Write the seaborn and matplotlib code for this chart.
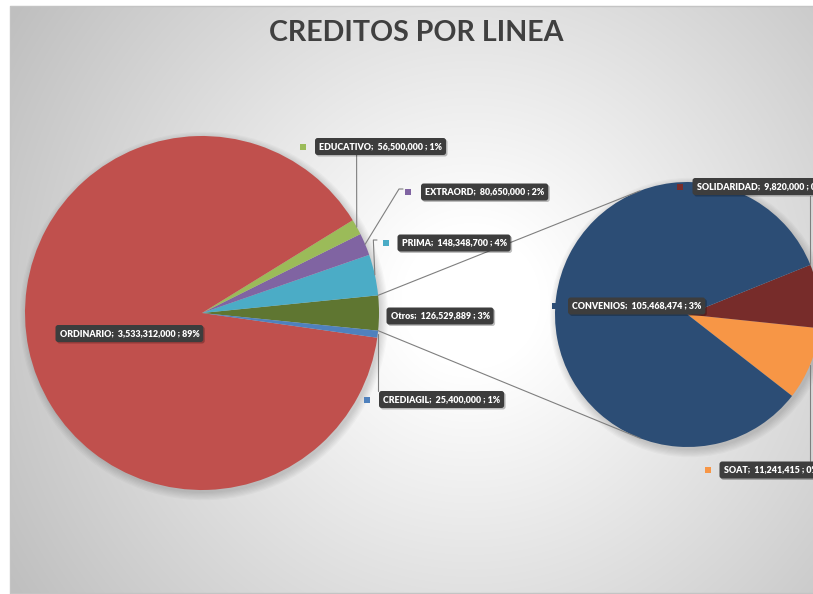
import numpy as np
import seaborn as sns
import matplotlib.pyplot as plt

# Main pie (counter-clockwise from the "Otros" slice, which faces the second pie)
other_lines = ["SOAT", "SOLIDARIDAD", "CONVENIOS"]
other_values = [11241415, 9820000, 105468474]

main_lines = ["Otros", "PRIMA", "EXTRAORD", "EDUCATIVO", "ORDINARIO", "CREDIAGIL"]
main_values = [sum(other_values), 148348700, 80650000, 56500000, 3533312000, 25400000]

main_colors = ["#5f7631", "#4bacc6", "#8064a2", "#9bbb59", "#c0504d", "#4f81bd"]
other_colors = ["#f79646", "#772c2a", "#2c4d75"]

total = sum(main_values)

sns.set_style("white")
plt.rcParams["font.family"] = ["Lato", "DejaVu Sans"]

W, H = 813, 594
fig = plt.figure(figsize=(8.13, 5.94), dpi=100)
ax = fig.add_axes([0, 0, 1, 1])

# radial gradient background of the chart area
yy, xx = np.mgrid[0:H, 0:W]
d = np.hypot(xx - 470, yy - 300)
g = 1 - 0.25 * np.clip((d - 70) / 470, 0, 1)
img = np.dstack([g, g, g])
img[:6, :] = 1
img[:, :10] = 1
img[593:, :] = 1
ax.imshow(img, extent=(0, W, 0, H), origin="upper", zorder=0)
ax.plot([10, 10, W], [H - 593, H - 6, H - 6], color="#c4c4c4", lw=1, zorder=1)
ax.plot([10, W], [H - 593, H - 593], color="#c4c4c4", lw=1, zorder=1)

# geometry
c1, r1 = (202, H - 313), 177
c2, r2 = (687.5, H - 314.5), 132.5

fr_main = np.array(main_values) / total
start1 = -360 * fr_main[0] / 2
fr_other = np.array(other_values) / sum(other_values)
start2 = 22 - 360 * (fr_other[0] + fr_other[1])

# soft shadows
for c, r in [(c1, r1), (c2, r2)]:
    for k in range(7):
        ax.add_patch(plt.Circle((c[0] + 2, c[1] - 3), r + k * 1.2, color="k",
                                alpha=0.025, lw=0, zorder=1))

ax.pie(main_values, colors=main_colors, startangle=start1, center=c1, radius=r1,
       counterclock=True, wedgeprops=dict(linewidth=0), frame=True)
ax.pie(other_values, colors=other_colors, startangle=start2, center=c2, radius=r2,
       counterclock=True, wedgeprops=dict(linewidth=0), frame=True)
for w in ax.patches:
    w.set_zorder(2)

line_kw = dict(color="#7f7f7f", lw=0.8, zorder=3)

# connector lines between the pies
a = np.radians(-start1)
for s in (1, -1):
    p0 = (c1[0] + r1 * np.cos(a), c1[1] + s * r1 * np.sin(a))
    b = np.radians(s * 111)
    p1 = (c2[0] + r2 * np.cos(b), c2[1] + r2 * np.sin(b))
    ax.plot([p0[0], p1[0]], [p0[1], p1[1]], **line_kw)


def mid_point(c, r, start, fr, i):
    ang = np.radians(start + 360 * (fr[:i].sum() + fr[i] / 2))
    return c[0] + r * np.cos(ang), c[1] + r * np.sin(ang)


def label(x, y, name, value, color=None, mx=None):
    txt = f"{name};  {value:,} ; {round(100 * value / total):.0f}%"
    y = H - y
    kw = dict(ha="left", va="center", fontsize=6.4, fontweight="heavy", zorder=6)
    box = "round,pad=0.45,rounding_size=0.3"
    ax.text(x + 1.5, y - 1.5, txt, color=(0, 0, 0, 0),
            bbox=dict(boxstyle=box, fc="k", ec="none", alpha=0.25), **kw)
    ax.text(x, y, txt, color="white",
            bbox=dict(boxstyle=box, fc="#3d3d3d", ec="none"), **kw)
    if color is not None:
        ax.scatter([mx], [y], marker="s", s=18, color=color, lw=0, zorder=6)


def leader(pts):
    xs = [p[0] for p in pts]
    ys = [p[1] if i == 0 else H - p[1] for i, p in enumerate(pts)]
    ax.plot(xs, ys, **line_kw)


# leader lines (from slice rim to label)
leader([mid_point(c1, r1, start1, fr_main, 3), (356.6, 154)])
p = mid_point(c1, r1, start1, fr_main, 2)
leader([p, (399, 189), (403, 189)])
p = mid_point(c1, r1, start1, fr_main, 1)
leader([p, (p[0] - 1.5, 240), (377, 240)])
p = mid_point(c1, r1, start1, fr_main, 5)
leader([p, (p[0], 391)])
leader([(810, H - 264), (810, 196)])
leader([(810, H - 365), (810, 461)])

# data labels
label(319, 146.5, "EDUCATIVO", main_values[3], main_colors[3], 303)
label(425, 192, "EXTRAORD", main_values[2], main_colors[2], 408)
label(401.5, 243, "PRIMA", main_values[1], main_colors[1], 386)
label(390.5, 316, "Otros", main_values[0])
label(383, 399.5, "CREDIAGIL", main_values[5], main_colors[5], 367)
label(59.5, 333.5, "ORDINARIO", main_values[4])
label(572, 306, "CONVENIOS", other_values[2], other_colors[2], 555)
label(696.5, 186.5, "SOLIDARIDAD", other_values[1], other_colors[1], 680)
label(723.5, 470, "SOAT", other_values[0], other_colors[0], 708)

ax.text(416.5, H - 33, "CREDITOS POR LINEA", ha="center", va="center",
        fontsize=20.6, fontweight="bold", color="#404040", zorder=6)

ax.set_xlim(0, W)
ax.set_ylim(0, H)
ax.axis("off")
fig.savefig("out.png", dpi=100)
